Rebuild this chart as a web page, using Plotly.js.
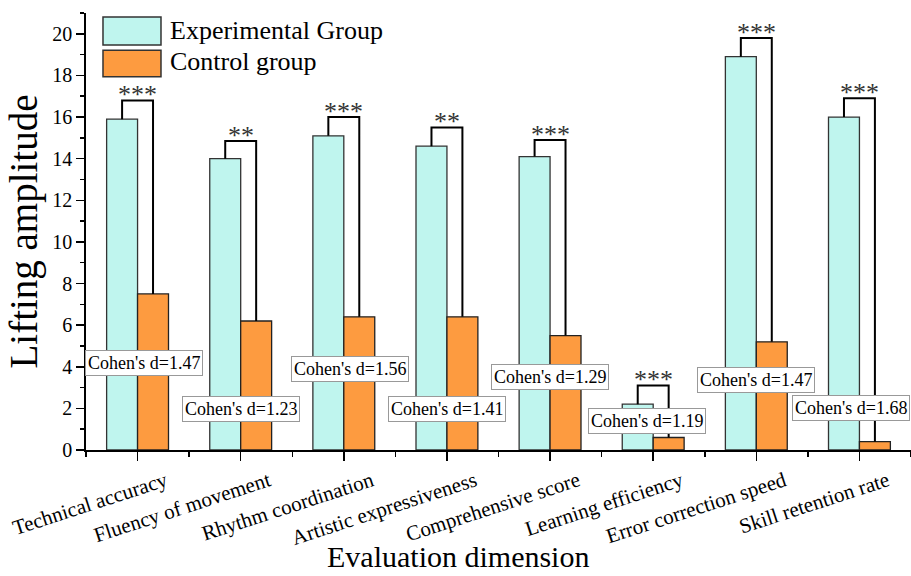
<!DOCTYPE html>
<html>
<head>
<meta charset="utf-8">
<script src="https://cdn.plot.ly/plotly-3.0.1.min.js"></script>
<style>html,body{margin:0;padding:0;background:#fff;}#chart{width:911px;height:576px;}</style>
</head>
<body>
<div id="chart"></div>
<script>
// ---- data ----
var categories = ["Technical accuracy","Fluency of movement","Rhythm coordination","Artistic expressiveness","Comprehensive score","Learning efficiency","Error correction speed","Skill retention rate"];
var experimental = [15.9, 14.0, 15.1, 14.6, 14.1, 2.2, 18.9, 16.0];
var control = [7.5, 6.2, 6.4, 6.4, 5.5, 0.6, 5.2, 0.4];
var bracketTop = [16.8, 14.85, 16.0, 15.5, 14.9, 3.1, 19.8, 16.9];
var significance = ["***","**","***","**","***","***","***","***"];
var cohensD = [1.47, 1.23, 1.56, 1.41, 1.29, 1.19, 1.47, 1.68];
var yTickVals = [0,2,4,6,8,10,12,14,16,18,20];

// ---- label placement (layout, not data) ----
var cohenLabelY = [4.2, 1.95, 3.9, 1.95, 3.5, 1.4, 3.35, 2.0];
var cohenLabelDx = [0.06, 0, 0.06, 0, 0, -0.06, 0, -0.08];

var FONT = "Liberation Serif, Times New Roman, serif";
var EXP_COLOR = "#bff5ee";
var CTRL_COLOR = "#fd9b40";
var idx = categories.map(function(_, i){ return i; });

var traces = [
  {type:"bar", name:"Experimental Group", x: idx, y: experimental,
   marker:{color:EXP_COLOR, line:{color:"#333", width:1.3}}, showlegend:false},
  {type:"bar", name:"Control group", x: idx, y: control,
   marker:{color:CTRL_COLOR, line:{color:"#222", width:1.3}}, showlegend:false}
];

// significance brackets
var bx = [], by = [];
idx.forEach(function(i){
  bx.push(i-0.15, i-0.15, i+0.15, i+0.15, null);
  by.push(experimental[i], bracketTop[i], bracketTop[i], control[i], null);
});
traces.push({type:"scatter", mode:"lines", x: bx, y: by,
  line:{color:"#000", width:2}, showlegend:false, hoverinfo:"skip", cliponaxis:false});

var annotations = [];
idx.forEach(function(i){
  annotations.push({x:i, y:bracketTop[i], xref:"x", yref:"y", text:significance[i],
    showarrow:false, yanchor:"bottom", yshift:-11,
    font:{family:FONT, size:26, color:"#333"}});
  annotations.push({x:i+cohenLabelDx[i], y:cohenLabelY[i], xref:"x", yref:"y",
    text:"Cohen's d=" + cohensD[i].toFixed(2), showarrow:false,
    bgcolor:"#fff", bordercolor:"#999", borderwidth:1, borderpad:2,
    font:{family:FONT, size:18, color:"#000"}});
});
// custom legend text
annotations.push({xref:"paper", yref:"paper", x:0.0994, y:0.961, xanchor:"left", yanchor:"middle",
  text:"Experimental Group", showarrow:false, font:{family:FONT, size:26, color:"#000"}});
annotations.push({xref:"paper", yref:"paper", x:0.0994, y:0.888, xanchor:"left", yanchor:"middle",
  text:"Control group", showarrow:false, font:{family:FONT, size:26, color:"#000"}});
// x-axis title (offset left as in the reference)
annotations.push({xref:"paper", yref:"paper", x:0.451, y:-0.287, xanchor:"center", yanchor:"bottom",
  text:"Evaluation dimension", showarrow:false, font:{family:FONT, size:30, color:"#000"}});

var shapes = [
  {type:"rect", xref:"paper", yref:"paper", x0:0.0206, x1:0.0909, y0:0.927, y1:0.991,
   fillcolor:EXP_COLOR, line:{color:"#333", width:1.5}},
  {type:"rect", xref:"paper", yref:"paper", x0:0.0206, x1:0.0909, y0:0.854, y1:0.915,
   fillcolor:CTRL_COLOR, line:{color:"#333", width:1.5}}
];

var layout = {
  width:911, height:576,
  margin:{l:86, r:0, t:13, b:126},
  paper_bgcolor:"#fff", plot_bgcolor:"#fff",
  barmode:"group", bargap:0.4, bargroupgap:0,
  font:{family:FONT, color:"#000"},
  xaxis:{
    range:[-0.5, 7.5], tickmode:"array", tickvals: idx, ticktext: categories,
    tickangle:-18, ticklabelshift:28, ticks:"outside", ticklen:9, tickwidth:1.5, tickcolor:"#000",
    minor:{tick0:0.5, dtick:1, ticks:"outside", ticklen:5, tickwidth:1.5, tickcolor:"#000"},
    showline:true, linecolor:"#000", linewidth:1.8, showgrid:false, zeroline:false,
    tickfont:{family:FONT, size:21, color:"#000"}
  },
  yaxis:{
    range:[0, 21], tickmode:"array", tickvals: yTickVals,
    ticks:"outside", ticklen:8, tickwidth:1.5, tickcolor:"#000",
    minor:{dtick:1, ticks:"outside", ticklen:4, tickwidth:1.5, tickcolor:"#000"},
    showline:true, linecolor:"#000", linewidth:1.8, showgrid:false, zeroline:false,
    tickfont:{family:FONT, size:20, color:"#000"},
    title:{text:"Lifting amplitude", font:{family:FONT, size:39, color:"#000"}, standoff:2}
  },
  annotations: annotations,
  shapes: shapes
};

Plotly.newPlot("chart", traces, layout, {displayModeBar:false, staticPlot:true});
</script>
</body>
</html>
